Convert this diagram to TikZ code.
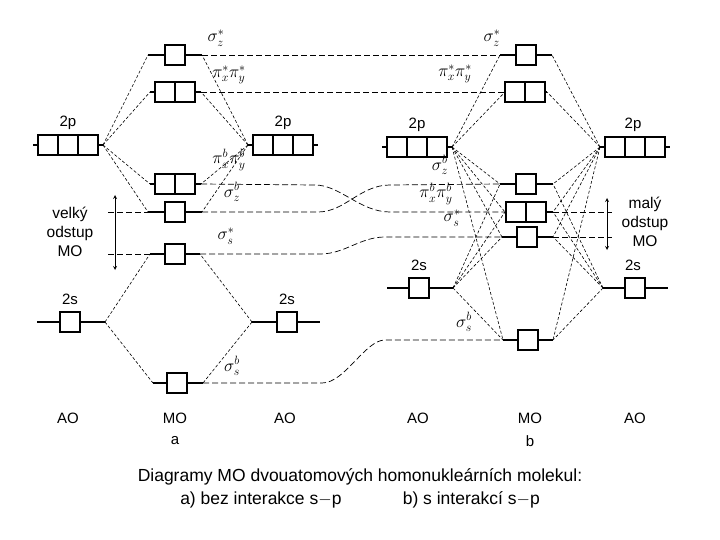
\documentclass[tikz,border=0pt]{standalone}
\usepackage{fontspec}
\setmainfont{Liberation Sans}
\begin{document}
\begin{tikzpicture}[x=1pt,y=-1pt,
  lev/.style={line width=1.4pt},
  cell/.style={draw,line width=1.1pt,minimum height=20pt,inner sep=0pt,fill=white},
  dl/.style={line width=0.6pt,dash pattern=on 3pt off 2pt},
  ll/.style={line width=0.7pt,dash pattern=on 6pt off 3pt},
  lab/.style={font=\fontsize{15}{15}\selectfont,inner sep=0pt},
  mlab/.style={font=\fontsize{18}{18}\selectfont,inner sep=0pt},
  captxt/.style={font=\fontsize{17.5}{20}\selectfont,inner sep=0pt}]
\useasboundingbox (0,0) rectangle (720,540);
% level macro: name, xcenter, y, nboxes(1..3), left end, right end
\newcommand\lvl[6]{%
  \coordinate (#1-l) at (#5,#3); \coordinate (#1-r) at (#6,#3);
  \draw[lev] (#1-l) -- (#1-r);
  \ifnum#4=1 \node[cell,minimum width=20pt] (#1) at (#2,#3) {};\fi
  \ifnum#4=2 \node[cell,minimum width=40pt] (#1) at (#2,#3) {};
    \draw[line width=1.1pt] (#2,#3-10) -- (#2,#3+10);\fi
  \ifnum#4=3 \node[cell,minimum width=60pt] (#1) at (#2,#3) {};
    \draw[line width=1.1pt] (#2-10,#3-10) -- (#2-10,#3+10) (#2+10,#3-10) -- (#2+10,#3+10);\fi}
% ---------- a ----------
\lvl{aLp}{68}{145}{3}{33}{103}
\lvl{aRp}{283}{145}{3}{248}{318}
\lvl{aLs}{70}{322}{1}{37}{105}
\lvl{aRs}{287}{322}{1}{252}{320}
\lvl{aSz}{175}{55}{1}{148}{202}
\lvl{aPi}{175}{92}{2}{150}{201}
\lvl{aPb}{175}{184}{2}{150}{201}
\lvl{aSzb}{175}{212}{1}{148}{202}
\lvl{aSs}{175}{254}{1}{150}{200}
\lvl{aSsb}{177}{383}{1}{153}{203}
\foreach \m in {aSz,aPi,aPb,aSzb}{\draw[dl] (aLp-r) -- (\m-l); \draw[dl] (aRp-l) -- (\m-r);}
\foreach \m in {aSs,aSsb}{\draw[dl] (aLs-r) -- (\m-l); \draw[dl] (aRs-l) -- (\m-r);}
% ---------- b ----------
\lvl{bLp}{417}{147}{3}{382}{452}
\lvl{bRp}{635}{147}{3}{600}{670}
\lvl{bLs}{419}{288}{1}{387}{453}
\lvl{bRs}{635}{288}{1}{603}{668}
\lvl{bSz}{526}{55}{1}{500}{552}
\lvl{bPi}{525}{92}{2}{505}{547}
\lvl{bSzb}{526}{184}{1}{500}{553}
\lvl{bPb}{526}{212}{2}{505}{553}
\lvl{bSs}{527}{237}{1}{502}{553}
\lvl{bSsb}{528}{340}{1}{503}{553}
\foreach \m in {bSz,bPi,bSzb,bPb,bSs,bSsb}{\draw[dl] (bLp-r) -- (\m-l); \draw[dl] (bRp-l) -- (\m-r);}
\foreach \m in {bSzb,bPb,bSs,bSsb}{\draw[dl] (bLs-r) -- (\m-l); \draw[dl] (bRs-l) -- (\m-r);}
% ---------- correlation lines ----------
\draw[ll] (aSz-r) -- (bSz-l);
\draw[ll] (aPi-r) -- (bPi-l);
\draw[ll] (aPb-r) -- (315,185) .. controls (340,185) and (360,212) .. (390,212) -- (bPb-l);
\draw[ll] (aSzb-r) -- (318,212) .. controls (345,212) and (360,185) .. (390,185) -- (bSzb-l);
\draw[ll] (aSs-r) -- (320,254) .. controls (345,254) and (360,237) .. (385,237) -- (bSs-l);
\draw[ll] (aSsb-r) -- (322,383) .. controls (345,383) and (365,340) .. (385,340) -- (bSsb-l);
% ---------- spacing markers ----------
\coordinate (vt) at (115,195); \coordinate (vb) at (115,270);
\draw[line width=0.8pt,<->,>=stealth] (vt) -- (vb);
\draw[ll] (108,212) -- (aSzb-l); \draw[ll] (108,254) -- (aSs-l);
\node[lab,align=center,font=\fontsize{15.5}{19}\selectfont] (velky) at (70,232) {velký\\odstup\\MO};
\coordinate (mt) at (607,198); \coordinate (mb) at (607,250);
\draw[line width=0.8pt,<->,>=stealth] (mt) -- (mb);
\draw[ll] (bPb-r) -- (612,212); \draw[ll] (bSs-r) -- (612,237);
\node[lab,align=center,font=\fontsize{15.5}{19}\selectfont] (maly) at (645,222) {malý\\odstup\\MO};
% ---------- labels ----------
\node[lab] at (68,123) {2p}; \node[lab] at (283,123) {2p};
\node[lab] at (70,299) {2s}; \node[lab] at (287,299) {2s};
\node[lab] at (417,125) {2p}; \node[lab] at (633,125) {2p};
\node[lab] at (419,265) {2s}; \node[lab] at (633,265) {2s};
\node[mlab] at (216,38) {$\sigma_z^*$};
\node[mlab] at (229,75) {$\pi_x^*\pi_y^*$};
\node[mlab] at (229,160) {$\pi_x^b\pi_y^b$};
\node[mlab] at (232,192) {$\sigma_z^b$};
\node[mlab] at (226,236) {$\sigma_s^*$};
\node[mlab] at (232,366) {$\sigma_s^b$};
\node[mlab] at (492,38) {$\sigma_z^*$};
\node[mlab] at (455,74) {$\pi_x^*\pi_y^*$};
\node[mlab] at (440,165) {$\sigma_z^b$};
\node[mlab] at (436,194) {$\pi_x^b\pi_y^b$};
\node[mlab] at (452,218) {$\sigma_s^*$};
\node[mlab] at (464,322) {$\sigma_s^b$};
\foreach \x/\t in {68/AO,175/MO,285/AO,418/AO,530/MO,635/AO}{\node[lab] at (\x,418) {\t};}
\node[lab] at (175,441) {a}; \node[lab] at (530,441) {b};
\node[captxt] (c1) at (360,477) {Diagramy MO dvouatomových homonukleárních molekul:};
\node[captxt] (c2) at (360,500) {a) bez interakce s$-$p\hspace{3.5em}b) s interakcí s$-$p};
\end{tikzpicture}
\end{document}
